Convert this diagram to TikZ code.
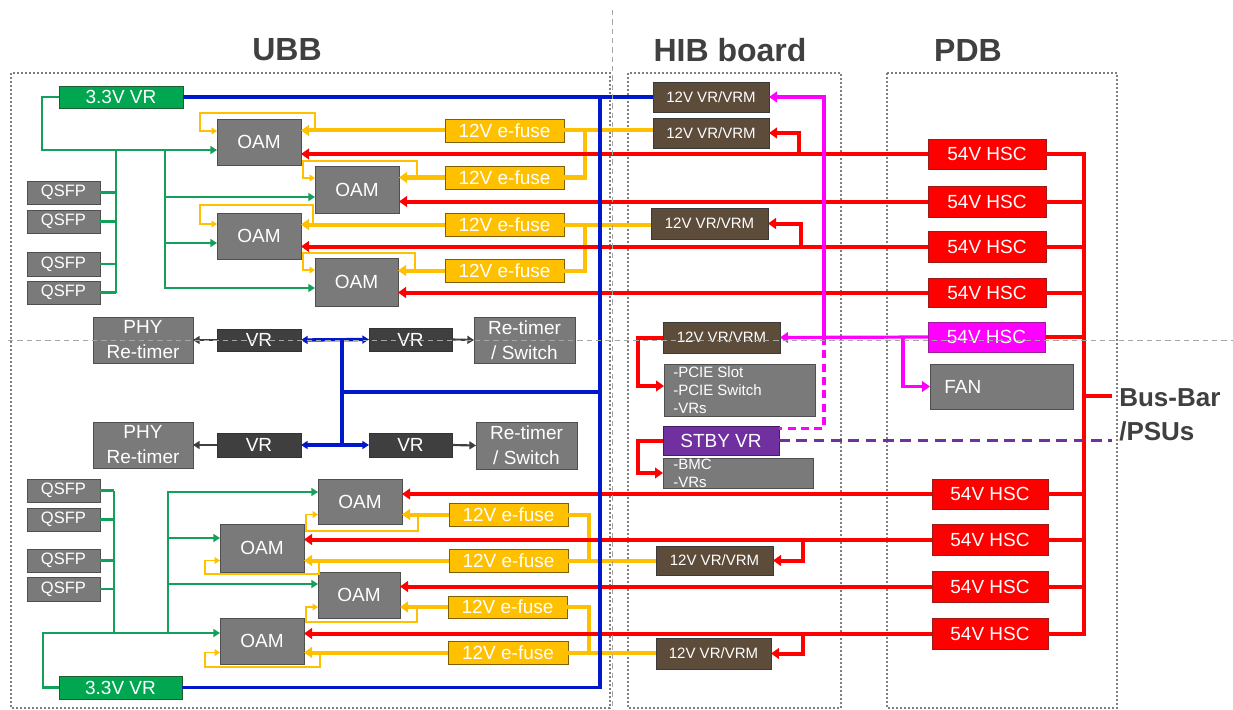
\documentclass[tikz,border=0pt]{standalone}
\usepackage{fontspec}
\setmainfont{Liberation Sans}
\usetikzlibrary{arrows.meta}

\definecolor{cGray}{HTML}{7A7A7A}
\definecolor{cGrayD}{HTML}{4F4F4F}
\definecolor{cDark}{HTML}{3F3F3F}
\definecolor{cGreen}{HTML}{00A650}
\definecolor{cGreenD}{HTML}{1E5C32}
\definecolor{cGLine}{HTML}{13A05A}
\definecolor{cBrown}{HTML}{5E4C3B}
\definecolor{cBrownD}{HTML}{3A3A3A}
\definecolor{cYel}{HTML}{FFC000}
\definecolor{cYelD}{HTML}{7F6000}
\definecolor{cRed}{HTML}{FF0000}
\definecolor{cRedD}{HTML}{9B1B1B}
\definecolor{cMag}{HTML}{FF00FF}
\definecolor{cMagD}{HTML}{9B1B9B}
\definecolor{cPur}{HTML}{7030A0}
\definecolor{cBlue}{HTML}{0018CC}
\definecolor{cTitle}{HTML}{404040}
\definecolor{cZone}{HTML}{7F7F7F}

% box from pixel corners (x1,y1)-(x2,y2)
\newcommand\bx[7]{\node[#2, minimum width={(#5-#3)*0.75pt}, minimum height={(#6-#4)*0.75pt}] (#1) at ({(#3+#5)/2},{(#4+#6)/2}) {#7};}

\begin{document}
\begin{tikzpicture}[x=0.75pt,y=-0.75pt,
  box/.style={draw, line width=0.6pt, inner sep=0pt, outer sep=0pt, text=white,
    font=\fontsize{14.25}{18.75}\selectfont, align=center},
  gbox/.style={box, fill=cGray, draw=cGrayD},
  qbox/.style={gbox, font=\fontsize{12.4}{14}\selectfont},
  dbox/.style={box, fill=cDark, draw=black!80},
  vbox/.style={box, fill=cGreen, draw=cGreenD},
  wbox/.style={box, fill=cBrown, draw=cBrownD, font=\fontsize{11.25}{13}\selectfont},
  fbox/.style={box, fill=cYel, draw=cYelD},
  hbox/.style={box, fill=cRed, draw=cRedD},
  mbox/.style={box, fill=cMag, draw=cMagD},
  pbox/.style={box, fill=cPur, draw=cPur!60!black},
  sml/.style={anchor=west, inner sep=0pt, text=white, align=left, font=\fontsize{11.25}{13.5}\selectfont},
  lbl/.style={anchor=west, inner sep=0pt, text=white, font=\fontsize{14.25}{17}\selectfont},
  ttl/.style={inner sep=0pt, text=cTitle, font=\bfseries\fontsize{24}{28}\selectfont},
  zone/.style={draw=cZone, line width=1.5pt, dash pattern=on 1.5pt off 1.5pt},
  guideline/.style={draw=gray!70, line width=0.6pt, dash pattern=on 4pt off 3pt},
  lnG/.style={draw=cGLine, line width=2.1pt},
  lnY/.style={draw=cYel, line width=3pt},
  lnYt/.style={draw=cYel, line width=0.9pt},
  lnR/.style={draw=cRed, line width=3pt},
  lnB/.style={draw=cBlue, line width=2.5pt},
  lnM/.style={draw=cMag, line width=2.4pt},
  lnP/.style={draw=cPur, line width=2.4pt},
  lnD/.style={draw=cDark, line width=1.6pt},
  tipL/.style={-{Triangle[length=6pt,width=8pt]}},
  tipM/.style={-{Triangle[length=5pt,width=6pt]}},
  tipS/.style={-{Triangle[length=4pt,width=5pt]}},
  tipB/.style={{Triangle[length=5pt,width=6pt]}-{Triangle[length=5pt,width=6pt]}},
]
\fill[white] (0,0) rectangle (1233,710);
\useasboundingbox (0,0) rectangle (1233,710);

% board outlines and titles
\draw[zone] (11,73) rectangle (610,708);
\draw[zone] (628,73) rectangle (841,708);
\draw[zone] (887,73) rectangle (1117,708);
\node[ttl] (tUBB) at (287,50) {UBB};
\node[ttl] (tHIB) at (730,50) {HIB board};
\node[ttl] (tPDB) at (968,50) {PDB};

% UBB blocks
\bx{vrA}{vbox}{59}{86}{183}{108}{3.3V VR}
\bx{vrB}{vbox}{59}{676}{182}{699}{3.3V VR}
\bx{qa1}{qbox}{27}{181}{100}{204}{QSFP}
\bx{qa2}{qbox}{27}{210}{100}{233}{QSFP}
\bx{qa3}{qbox}{27}{252}{100}{276}{QSFP}
\bx{qa4}{qbox}{27}{281}{100}{304}{QSFP}
\bx{qb1}{qbox}{27}{479}{100}{502}{QSFP}
\bx{qb2}{qbox}{27}{508}{100}{531}{QSFP}
\bx{qb3}{qbox}{27}{549}{100}{572}{QSFP}
\bx{qb4}{qbox}{27}{577}{100}{601}{QSFP}
\bx{oa1}{gbox}{217}{119}{301}{165}{OAM}
\bx{oa2}{gbox}{315}{166}{399}{213}{OAM}
\bx{oa3}{gbox}{217}{213}{301}{259}{OAM}
\bx{oa4}{gbox}{315}{258}{398}{306}{OAM}
\bx{ob1}{gbox}{318}{479}{402}{524}{OAM}
\bx{ob2}{gbox}{220}{524}{304}{572}{OAM}
\bx{ob3}{gbox}{318}{572}{400}{618}{OAM}
\bx{ob4}{gbox}{220}{618}{304}{664}{OAM}
\bx{ea1}{fbox}{445}{119}{564}{142}{12V e-fuse}
\bx{ea2}{fbox}{445}{166}{564}{189}{12V e-fuse}
\bx{ea3}{fbox}{445}{213}{564}{236}{12V e-fuse}
\bx{ea4}{fbox}{445}{259}{564}{282}{12V e-fuse}
\bx{eb1}{fbox}{449}{503}{568}{526}{12V e-fuse}
\bx{eb2}{fbox}{449}{549}{568}{572}{12V e-fuse}
\bx{eb3}{fbox}{448}{596}{567}{618}{12V e-fuse}
\bx{eb4}{fbox}{448}{641}{568}{664}{12V e-fuse}
\bx{phy1}{gbox}{93}{317}{193}{363}{PHY\\Re-timer}
\bx{vl1}{dbox}{217}{329}{301}{351}{VR}
\bx{vr1}{dbox}{369}{328}{452}{351}{VR}
\bx{rt1}{gbox}{474}{317}{575}{363}{Re-timer\\/ Switch}
\bx{phy2}{gbox}{93}{422}{193}{468}{PHY\\Re-timer}
\bx{vl2}{dbox}{217}{433}{301}{457}{VR}
\bx{vr2}{dbox}{369}{433}{452}{457}{VR}
\bx{rt2}{gbox}{476}{422}{577}{469}{Re-timer\\/ Switch}

% HIB blocks
\bx{vm1}{wbox}{653}{82}{769}{112}{12V VR/VRM}
\bx{vm2}{wbox}{653}{118}{769}{148}{12V VR/VRM}
\bx{vm3}{wbox}{651}{208}{768}{239}{12V VR/VRM}
\bx{vm4}{wbox}{663}{322}{780}{353}{12V VR/VRM}
\bx{vm5}{wbox}{656}{546}{773}{575}{12V VR/VRM}
\bx{vm6}{wbox}{656}{638}{771}{669}{12V VR/VRM}
\bx{pc}{gbox}{664}{364}{815}{416}{}
\node[sml] (pct) at (673,390) {-PCIE Slot\\-PCIE Switch\\-VRs};
\bx{sb}{pbox}{663}{426}{779}{455}{STBY VR}
\bx{bm}{gbox}{663}{458}{813}{488}{}
\node[sml] (bmt) at (673,473) {-BMC\\-VRs};

% PDB blocks
\bx{h1}{hbox}{928}{139}{1046}{169}{54V HSC}
\bx{h2}{hbox}{928}{186}{1046}{217}{54V HSC}
\bx{h3}{hbox}{928}{231}{1046}{262}{54V HSC}
\bx{h4}{hbox}{928}{278}{1046}{307}{54V HSC}
\bx{hm}{mbox}{928}{322}{1045}{352}{54V HSC}
\bx{fan}{gbox}{930}{364}{1073}{409}{}
\node[lbl] (fant) at (944,387) {FAN};
\bx{h5}{hbox}{932}{479}{1048}{509}{54V HSC}
\bx{h6}{hbox}{932}{524}{1048}{555}{54V HSC}
\bx{h7}{hbox}{932}{571}{1048}{602}{54V HSC}
\bx{h8}{hbox}{932}{618}{1048}{649}{54V HSC}
\node[anchor=west, inner sep=0pt, align=left, text=cTitle,
  font=\bfseries\fontsize{19.5}{25.5}\selectfont] (bus) at (1119,415) {Bus-Bar\\/PSUs};

% 12V feeds: e-fuses to OAMs, VRMs to e-fuses
\foreach \e/\o in {ea1/oa1,ea2/oa2,ea3/oa3,ea4/oa4,eb1/ob1,eb2/ob2,eb3/ob3,eb4/ob4}
  \draw[lnY,tipL] (\e.west) -- (\e.west -| \o.east);
\draw[lnY] (ea1.east) -- (ea1.east -| vm2.west);
\draw[lnY] (ea1.east -| 585,0) |- (ea2.east);
\draw[lnY] (ea3.east) -- (ea3.east -| vm3.west);
\draw[lnY] (ea3.east -| 585,0) |- (ea4.east);
\draw[lnY] (eb2.east) -- (eb2.east -| vm5.west);
\draw[lnY] (eb2.east -| 589,0) |- (eb1.east);
\draw[lnY] (eb4.east) -- (eb4.east -| vm6.west);
\draw[lnY] (eb4.east -| 589,0) |- (eb3.east);
% bypass loops around the OAMs
\draw[lnYt,tipS] (315,131) |- (200,113) |- (oa1.west |- 0,131);
\draw[lnYt,tipS] (417,178) |- (303,161) |- (oa2.west |- 0,178);
\draw[lnYt,tipS] (313,224) |- (200,205) |- (oa3.west |- 0,224);
\draw[lnYt,tipS] (415,270) |- (303,253) |- (oa4.west |- 0,270);
\draw[lnYt,tipS] (418,514.5) |- (306,531) |- (ob1.west |- 0,514.5);
\draw[lnYt,tipS] (319,560.5) |- (205,574) |- (ob2.west |- 0,560.5);
\draw[lnYt,tipS] (417,607) |- (306,622) |- (ob3.west |- 0,607);
\draw[lnYt,tipS] (320,652.5) |- (205,667) |- (ob4.west |- 0,652.5);

% 54V distribution
\foreach \h/\o in {h1/oa1,h2/oa2,h3/oa3,h4/oa4,h5/ob1,h6/ob2,h7/ob3,h8/ob4}
  \draw[lnR,tipL] (\h.west) -- (\h.west -| \o.east);
\coordinate (busB) at (1084,633.5);
\draw[lnR] (h1.east) -| (busB) -- (h8.east);
\foreach \h in {h2,h3,h4,hm,h5,h6,h7}
  \draw[lnR] (\h.east) -- (\h.east -| busB);
\coordinate (bbar) at (1112,396);
\draw[lnR] (bbar -| busB) -- (bbar);
\draw[lnR,tipL] (h1.west -| 799,0) |- (vm2.east);
\draw[lnR,tipL] (h3.west -| 801,0) |- (vm3.east);
\draw[lnR,tipL] (h6.west -| 803,0) |- (vm5.east);
\draw[lnR,tipL] (h8.west -| 803,0) |- (vm6.east);
\draw[lnR,tipL] (vm4.west) -- ++(-25,0) |- ([yshift=3pt]pc.west);
\draw[lnR,tipL] (sb.west) -- ++(-25,0) |- (bm.west);

% 3.3V distribution
\coordinate (gL) at (42,150);
\draw[lnG,tipM] (vrA.west) -| (gL) -- (gL -| oa1.west);
\coordinate (gQ) at (116,150);
\draw[lnG] (gQ) -- (gQ |- qa4.east);
\foreach \q in {qa1,qa2,qa3,qa4} \draw[lnG] (\q.east) -- (\q.east -| gQ);
\coordinate (gO) at (165,150);
\draw[lnG,tipM] (gO) |- (oa4.west |- 0,288);
\draw[lnG,tipM] (165,197) -- (oa2.west |- 0,197);
\draw[lnG,tipM] (165,243) -- (oa3.west |- 0,243);
\coordinate (kL) at (43,633);
\draw[lnG,tipM] (vrB.west) -| (kL) -- (kL -| ob4.west);
\coordinate (kQ) at (114,633);
\draw[lnG] (kQ) -- (kQ |- qb1.east);
\foreach \q in {qb1,qb2,qb3,qb4} \draw[lnG] (\q.east) -- (\q.east -| kQ);
\coordinate (kO) at (168,633);
\draw[lnG,tipM] (kO) |- (ob1.west |- 0,492);
\draw[lnG,tipM] (168,538) -- (ob2.west |- 0,538);
\draw[lnG,tipM] (168,584) -- (ob3.west |- 0,584);

% standby rail
\draw[lnB] (vrA.east) -- (vm1.west);
\coordinate (bT) at (600,97);
\draw[lnB] (bT) |- (vrB.east);
\coordinate (bM) at (600,392);
\coordinate (bJ) at (342,392);
\draw[lnB] (bM) -- (bJ);
\draw[lnB] (bJ |- vl1.east) -- (bJ |- vl2.east);
\draw[lnB,tipB] (vl1.east) -- (vr1.west);
\draw[lnB,tipB] (vl2.east) -- (vr2.west);
\draw[lnD,tipM] (vl1.west) -- (phy1.east);
\draw[lnD,tipM] (vr1.east) -- (rt1.west);
\draw[lnD,tipM] (vl2.west) -- (phy2.east);
\draw[lnD,tipM] (vr2.east) -- (rt2.west);

% magenta HSC feed and standby
\draw[lnM,tipL] (hm.west) -- (vm4.east);
\coordinate (mV) at (824,337);
\draw[lnM,tipL] (mV) |- (vm1.east);
\draw[lnM,tipL] (hm.west -| 903,0) |- (fan.west);
\draw[lnM, dash pattern=on 6pt off 4pt] (mV) |- ([yshift=9pt]sb.east);
\draw[lnP, dash pattern=on 8pt off 5pt] (sb.east) -- (sb.east -| bbar);

% guide lines
\draw[guideline] (8,340) -- (1233,340);
\draw[guideline] (612,10) -- (612,708);
\end{tikzpicture}
\end{document}
